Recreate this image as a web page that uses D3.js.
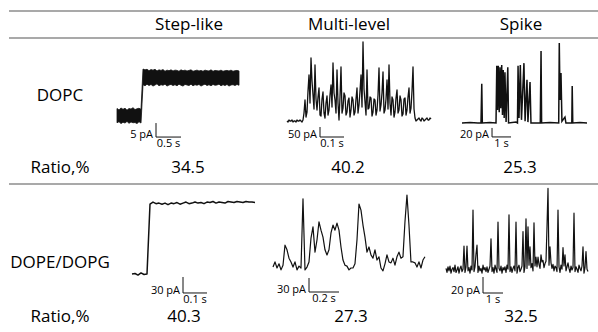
<!DOCTYPE html>
<html>
<head>
<meta charset="utf-8">
<script src="https://cdn.jsdelivr.net/npm/d3@7"></script>
<style>
  html, body { margin: 0; padding: 0; background: #fff; }
  svg { display: block; font-family: "Open Sans", "Noto Sans", sans-serif; }
</style>
</head>
<body>
<div id="chart"></div>
<script>
// table text
const columns = ['Step-like', 'Multi-level', 'Spike'];
const rowLabels = ['DOPC', 'DOPE/DOPG'];
const ratioLabel = 'Ratio,%';
const dopcRatio = [34.5, 40.2, 25.3];
const dopeRatio = [40.3, 27.3, 32.5];

// scale bars: [pA, s]
const dopcBars = [[5, 0.5], [50, 0.1], [20, 1]];
const dopeBars = [[30, 0.1], [30, 0.2], [20, 1]];

// DOPC step-like: noise envelope (pA), sampled every 0.04 s
const dopcStepDt = 0.04;
const dopcStepHi = [2.5, 2.0, 2.7, 2.2, 2.6, 1.9, 2.5, 2.3, 2.8, 2.1, 2.4, 2.6, 2.2,
  16.6, 16.3, 16.5, 16.0, 16.4, 16.2, 16.5, 15.9, 16.3, 16.1, 16.4, 15.8, 16.2, 16.0, 16.3,
  15.9, 16.2, 16.1, 15.8, 16.3, 16.0, 16.2, 15.9, 16.1, 16.3, 15.8, 16.0, 16.2, 15.9, 16.1,
  15.8, 16.2, 16.0, 15.9, 16.3, 15.8, 16.1, 16.0, 15.9, 16.2, 15.8, 16.0, 16.1, 15.9, 16.2,
  15.8, 16.0, 16.1, 15.9];
const dopcStepLo = [-2.6, -2.2, -2.9, -2.4, -2.7, -2.1, -2.8, -2.3, -2.6, -2.5, -2.9, -2.2, -2.7,
  11.0, 10.6, 11.2, 10.7, 11.1, 10.5, 10.9, 11.3, 10.6, 11.0, 10.8, 11.2, 10.5, 10.9, 11.1,
  10.7, 11.0, 10.6, 11.2, 10.8, 10.5, 11.1, 10.9, 10.7, 11.2, 10.6, 11.0, 10.8, 11.1, 10.5,
  10.9, 11.2, 10.7, 11.0, 10.6, 11.1, 10.8, 10.9, 11.2, 10.6, 11.0, 10.7, 11.1, 10.5, 10.9,
  11.0, 10.7, 11.1, 10.8];

// DOPC multi-level (pA), sampled every 0.004167 s
const dopcMultiDt = 0.004167;
const dopcMultiI = [0, -5, 5, 0, 0, 5, -5, 0, 0, -5, 5, 0, 0, 5, 0, -5, 5, 40,
  105, 20, 45, 150, 230, 90, 315, 200, 130, 60, 280, 110, 55, 120, 165, 30, 25, 110, 145, 40,
  15, 90, 125, 30, 55, 130, 180, 70, 290, 140, 105, 40, 255, 90, 5, 120, 270, 40, 65, 140,
  125, 30, 45, 100, 115, 20, 55, 120, 105, 30, 45, 110, 165, 40, 80, 150, 230, 70, 395, 160,
  95, 30, 255, 60, 65, 120, 115, 25, 45, 110, 105, 30, 55, 130, 265, 50, 80, 140, 245, 40,
  55, 110, 205, 60, 280, 90, 30, 120, 105, 20, 45, 115, 155, 40, 55, 125, 105, 25, 35, 110,
  115, 30, 55, 120, 165, 40, 65, 150, 270, 60, 15, 0, 5, 10, 15, 5, 0, 15, 10, 0, 5, 10,
  15, 5, 5, 15, 10];

// DOPC spike: time (s) and current (pA)
const dopcSpikeT = [0, 0.42, 0.84, 1.0, 1.04, 1.07, 1.47, 1.79, 1.83, 1.87, 1.91, 1.96, 2.0, 2.04,
  2.09, 2.13, 2.17, 2.22, 2.26, 2.32, 2.41, 2.45, 2.84, 2.92, 2.95, 3.0, 3.07, 3.13, 3.26, 3.32,
  3.42, 3.47, 3.58, 3.63, 4.12, 4.16, 4.19, 4.63, 5.09, 5.12, 5.16, 5.21, 5.26, 5.42, 5.47,
  5.78, 5.80, 5.83, 6.21, 6.58];
const dopcSpikeI = [0, 1, 0, 0, 87, 0, 1, 0, 127, 29, 127, 24, 124, 33, 129, 18, 118, 11, 113, 2,
  124, 0, 2, 0, 127, 11, 129, 7, 133, 4, 96, 2, 91, 0, 0, 160, 0, 1, 0, 178, 51, 111, 4, 13, 0,
  0, 82, 0, 1, 0];

// DOPE/DOPG step-like (pA), sampled every 0.0125 s
const dopeStepDt = 0.0125;
const dopeStepI = [0, 1, -2, 2, -1, 0, 131, 135, 132, 133, 131, 133, 130, 133, 132, 134, 131, 133,
  135, 132, 133, 135, 133, 134, 132, 135, 134, 136, 133, 135, 134, 133, 136, 135, 134, 136, 135,
  134, 136, 135, 135, 134];

// DOPE/DOPG multi-level (pA), sampled every 0.01333 s
const dopeMultiDt = 0.01333;
const dopeMultiI = [2, 13, 0, 9, -4, 6, 49, 39, 21, 13, 2, 13, -4, 4, 0, 148, -4, 2, 13, 64,
  88, 34, 60, 99, 81, 66, 39, 28, 39, 75, 92, 81, 96, 81, 45, 17, 6, 4, -4, 0,
  0, 9, 60, 137, 124, 92, 66, 34, 45, 28, 21, 39, 17, 24, 0, -6, 9, 28, 13, 11,
  21, 6, 24, 34, 21, 24, 99, 156, 92, 13, 13, 11, 2, 13, 0, 17, 24];

// DOPE/DOPG spike (pA), sampled every 0.05 s
const dopeSpikeDt = 0.05;
const dopeSpikeI = [2, -3, 4, -1, 5, -4, 1, 3, -2, 6, -3, 0, 4, -4, 2, 5, -2, 1, 30, -3,
  4, 30, -1, 3, -4, 5, 0, 75, -2, 4, 20, 31, -3, 5, -1, 2, -4, 6, 0, 3,
  -2, 4, -3, 1, 5, 39, -2, 3, -4, 6, 1, -3, 60, 2, -1, 5, -4, 3, 0, 4,
  -3, 6, 1, 69, -2, 4, -3, 2, 5, -1, 60, -4, 3, 6, -2, 1, 5, 48, -3, 4,
  64, 2, 54, 6, 29, 3, 8, -1, 59, 5, 16, 4, 16, 7, 2, 19, 10, 12, 3, 8,
  11, 54, 102, 6, 29, 9, 2, 7, -1, 5, 3, -2, 75, 4, -3, 6, 1, 28, 5, 19,
  -1, 4, 9, 2, -3, 5, 0, 3, 71, -2, 4, 1, -3, 6, 2, -1, 5, 29, -4, 3, 23, 1, -2];

// ---- layout ----
const width = 598, height = 332;
const colX = [189, 349, 521];
const topNumX = [188, 348, 520];
const botNumX = [184, 351, 521];
const labelX = 60;
const rules = [11, 38, 184];

// panel placement: left px of t=0, px per s, px of 0 pA, px per pA, scale bar anchor (s, pA)
const panels = [
  { left: 117, pxs: 50, base: 115.5, pxa: 2.8, barT: 0.78, barI: -2.7, bar: dopcBars[0] },
  { left: 287, pxs: 240, base: 121, pxa: 0.2, barT: 0.1375, barI: -30, bar: dopcBars[1] },
  { left: 462, pxs: 19, base: 123, pxa: 0.45, barT: 1.58, barI: -11, bar: dopcBars[2] },
  { left: 132, pxs: 240, base: 274, pxa: 0.533, barT: 0.2125, barI: -5.6, bar: dopeBars[0] },
  { left: 273, pxs: 150, base: 268, pxa: 0.467, barT: 0.24, barI: -21.4, bar: dopeBars[1] },
  { left: 446, pxs: 20, base: 270, pxa: 0.8, barT: 1.85, barI: -8.75, bar: dopeBars[2] }
];
panels.forEach(p => {
  p.x = d3.scaleLinear().domain([0, 1]).range([p.left, p.left + p.pxs]);
  p.y = d3.scaleLinear().domain([0, 1]).range([p.base, p.base - p.pxa]);
});

const svg = d3.select('#chart').append('svg')
  .attr('width', width).attr('height', height);
svg.append('rect').attr('width', width).attr('height', height).attr('fill', '#fff');

// table rules
svg.selectAll('line.rule').data(rules).enter().append('line')
  .attr('class', 'rule')
  .attr('x1', 9).attr('x2', width)
  .attr('y1', d => d).attr('y2', d => d)
  .attr('stroke', '#8c8c8c').attr('stroke-width', 1.4);

// column headers
svg.selectAll('text.head').data(columns).enter().append('text')
  .attr('class', 'head')
  .attr('x', (d, i) => colX[i]).attr('y', 30)
  .attr('text-anchor', 'middle').attr('font-size', 17)
  .text(d => d);

// row labels
const leftTexts = [[rowLabels[0], 101], [ratioLabel, 173], [rowLabels[1], 268], [ratioLabel, 322]];
svg.selectAll('text.row').data(leftTexts).enter().append('text')
  .attr('class', 'row')
  .attr('x', labelX).attr('y', d => d[1])
  .attr('text-anchor', 'middle').attr('font-size', 17)
  .text(d => d[0]);

// ratio values
const fmt = d3.format('.1f');
[[dopcRatio, 173, topNumX], [dopeRatio, 322, botNumX]].forEach(([vals, y, xs]) => {
  svg.append('g').selectAll('text').data(vals).enter().append('text')
    .attr('x', (d, i) => xs[i]).attr('y', y)
    .attr('text-anchor', 'middle').attr('font-size', 17)
    .text(d => fmt(d));
});

// traces
function uniformLine(p, dt, vals, w) {
  const line = d3.line().x((d, i) => p.x(i * dt)).y(d => p.y(d));
  svg.append('path').datum(vals).attr('d', line)
    .attr('fill', 'none').attr('stroke', '#111').attr('stroke-width', w)
    .attr('stroke-linejoin', 'round');
}

// DOPC step-like band
{
  const p = panels[0];
  const area = d3.area()
    .x((d, i) => p.x(i * dopcStepDt))
    .y0((d, i) => p.y(dopcStepLo[i]))
    .y1(d => p.y(d));
  svg.append('path').datum(dopcStepHi).attr('d', area)
    .attr('fill', '#111').attr('stroke', '#111').attr('stroke-width', 0.8);
}
uniformLine(panels[1], dopcMultiDt, dopcMultiI, 1.3);
{
  const p = panels[2];
  const line = d3.line().x(d => p.x(d[0])).y(d => p.y(d[1]));
  svg.append('path').datum(d3.zip(dopcSpikeT, dopcSpikeI)).attr('d', line)
    .attr('fill', 'none').attr('stroke', '#111').attr('stroke-width', 1.5);
}
uniformLine(panels[3], dopeStepDt, dopeStepI, 1.5);
uniformLine(panels[4], dopeMultiDt, dopeMultiI, 1.2);
uniformLine(panels[5], dopeSpikeDt, dopeSpikeI, 1.2);

// scale bars
panels.forEach(p => {
  const [pa, s] = p.bar;
  const x0 = p.x(p.barT), yTop = p.y(p.barI), yBot = p.y(p.barI - pa);
  const x1 = p.x(p.barT + s);
  svg.append('path')
    .attr('d', `M${x0},${yTop}V${yBot}H${x1}`)
    .attr('fill', 'none').attr('stroke', '#111').attr('stroke-width', 1);
  svg.append('text').attr('x', x0 - 3).attr('y', yBot + 1)
    .attr('text-anchor', 'end').attr('font-size', 11).text(`${pa} pA`);
  svg.append('text').attr('x', (x0 + x1) / 2).attr('y', yBot + 10)
    .attr('text-anchor', 'middle').attr('font-size', 11).text(`${s} s`);
});
</script>
</body>
</html>
